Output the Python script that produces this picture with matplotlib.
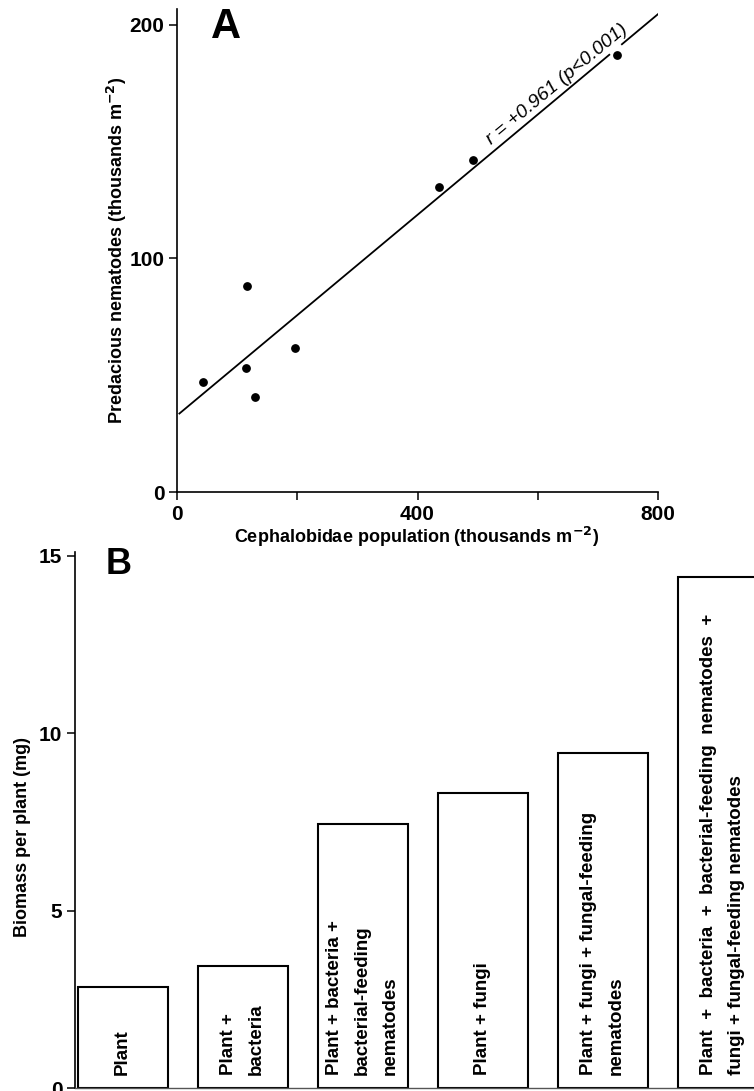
import numpy as np
import matplotlib
matplotlib.use("Agg")
import matplotlib.pyplot as plt

# ---------------- Data ----------------
# Panel A: Cephalobidae population vs predacious nematodes (thousands m^-2)
cephalobidae = [44, 116, 114, 130, 196, 436, 492, 732]
predacious = [47, 88, 53, 40.5, 61.5, 130.5, 142, 187]
fit_x = [4, 800]            # regression line ends
fit_y = [33.6, 204.6]
fit_gap = [719, 740]        # short break in the line near last point
r_text = "r = +0.961 (p<0.001)"
a_xticks = [0, 200, 400, 600, 800]
a_xticklabels = ["0", "", "400", "", "800"]
a_yticks = [0, 100, 200]

# Panel B: plant biomass by treatment
treatments = [
    "Plant",
    "Plant +\nbacteria",
    "Plant + bacteria +\nbacterial-feeding\nnematodes",
    "Plant + fungi",
    "Plant + fungi + fungal-feeding\nnematodes",
    "Plant  +  bacteria  +  bacterial-feeding  nematodes  +\nfungi + fungal-feeding nematodes",
]
biomass = [2.85, 3.45, 7.45, 8.3, 9.45, 14.4]
b_yticks = [0, 5, 10, 15]

# ---------------- Figure ----------------
W, H = 754, 1091
fig = plt.figure(figsize=(W / 100, H / 100), dpi=100)

LAB = "Liberation Sans"
TICK = "Liberation Sans"


def px_axes(l, t, r, b):
    return fig.add_axes([l / W, 1 - b / H, (r - l) / W, (b - t) / H])


# ---- Panel A ----
axA = px_axes(177, 9, 658, 492)
axA.set_xlim(0, 800)
axA.set_ylim(0, 206.8)
axA.scatter(cephalobidae, predacious, s=28, color="black", zorder=3)

slope = (fit_y[1] - fit_y[0]) / (fit_x[1] - fit_x[0])
def fy(xv):
    return fit_y[0] + slope * (xv - fit_x[0])
axA.plot([fit_x[0], fit_gap[0]], [fy(fit_x[0]), fy(fit_gap[0])], color="black", lw=1.3)
axA.plot([fit_gap[1], fit_x[1]], [fy(fit_gap[1]), fy(fit_x[1])], color="black", lw=1.3)

p0 = axA.transData.transform((fit_x[0], fy(fit_x[0])))
p1 = axA.transData.transform((fit_x[1], fy(fit_x[1])))
ang = np.degrees(np.arctan2(p1[1] - p0[1], p1[0] - p0[0]))
axA.text(632, 174.5, r_text, rotation=ang, rotation_mode="anchor",
         ha="center", va="center", fontsize=14, style="italic", family=LAB)

axA.spines["top"].set_visible(False)
axA.spines["right"].set_visible(False)
for s in ("left", "bottom"):
    axA.spines[s].set_linewidth(1.2)
axA.set_xticks(a_xticks)
axA.set_xticklabels(a_xticklabels)
axA.set_yticks(a_yticks)
axA.tick_params(direction="out", length=6, width=1.1, pad=3, labelsize=15)
for lab in axA.get_xticklabels() + axA.get_yticklabels():
    lab.set_family(TICK)
    lab.set_fontweight("bold")

fig.text(117 / W, 1 - 250 / H, r"Predacious nematodes (thousands m$^{\mathbf{-2}}$)",
         rotation=90, ha="center", va="center", fontsize=13, fontweight="bold", family=LAB)
fig.text(417 / W, 1 - 537 / H, r"Cephalobidae population (thousands m$^{\mathbf{-2}}$)",
         ha="center", va="center", fontsize=13, fontweight="bold", family=LAB)
fig.text(211 / W, 1 - 27 / H, "A", ha="left", va="center", fontsize=30,
         fontweight="bold", family=LAB)

# ---- Panel B ----
axB = px_axes(75, 552, 754, 1088)
axB.set_ylim(0, 15.1)
axB.set_xlim(-0.396, 5.262)
x = np.arange(len(treatments))
axB.bar(x, biomass, width=0.75, color="white", edgecolor="black", linewidth=1.5, zorder=2)
for xi, lab in zip(x, treatments):
    axB.text(xi, 0.37, lab, rotation=90, rotation_mode="anchor", ha="left", va="center",
             multialignment="left", fontsize=13.5, fontweight="bold", family=LAB,
             linespacing=1.85, zorder=3)

axB.spines["top"].set_visible(False)
axB.spines["right"].set_visible(False)
axB.spines["left"].set_linewidth(1.2)
axB.spines["bottom"].set_linewidth(1.0)
axB.spines["bottom"].set_color("#555555")
axB.set_xticks([])
axB.set_yticks(b_yticks)
axB.tick_params(axis="y", direction="out", length=6, width=1.1, pad=3, labelsize=15)
for lab in axB.get_yticklabels():
    lab.set_family(TICK)
    lab.set_fontweight("bold")

fig.text(23 / W, 1 - 837 / H, "Biomass per plant (mg)", rotation=90, ha="center",
         va="center", fontsize=13, fontweight="bold", family=LAB)
fig.text(106 / W, 1 - 565 / H, "B", ha="left", va="center", fontsize=26,
         fontweight="bold", family=LAB)

fig.savefig("out.png", dpi=100)
